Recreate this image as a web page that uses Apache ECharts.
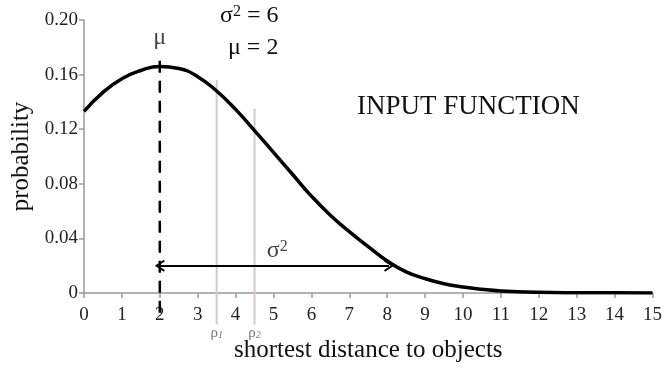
<!DOCTYPE html>
<html lang="en">
<head>
    <meta charset="UTF-8">
    <title>Input function</title>
    <style>
        html, body { margin: 0; padding: 0; background: #fff; }
        #main { width: 665px; height: 368px; }
    </style>
</head>
<body>
<div id="main"></div>
<script src="https://cdn.jsdelivr.net/npm/echarts@6/dist/echarts.min.js"></script>
<script>
    // values
    var distance = [0, 0.5, 1, 1.5, 2, 2.5, 3, 3.5, 4, 4.5, 5, 5.5, 6, 6.5, 7, 7.5, 8, 8.5, 9, 9.5, 10, 10.5, 11, 12, 13, 14, 15];
    var probability = [0.133, 0.147, 0.157, 0.163, 0.166, 0.1645, 0.1585, 0.148, 0.1345, 0.119, 0.103, 0.087, 0.071, 0.057, 0.045, 0.034, 0.0235, 0.0155, 0.0105, 0.0068, 0.0044, 0.0027, 0.0015, 0.0005, 0.0002, 0.0001, 0];
    var xTicks = [0, 1, 2, 3, 4, 5, 6, 7, 8, 9, 10, 11, 12, 13, 14, 15];
    var yTicks = [0, 0.04, 0.08, 0.12, 0.16, 0.20];

    var mu = 2;
    var muLine = [-0.0145, 0.172];
    var rhoX = [3.5, 4.5];
    var rhoTop = [0.156, 0.135];
    var rhoBottom = -0.023;
    var rhoNames = ['1', '2'];
    var arrowY = 0.02;
    var arrowEnd = 8.05;

    var serif = '"Liberation Serif", "Times New Roman", serif';

    var curve = distance.map(function (d, i) { return [d, probability[i]]; });

    var rhoSeries = rhoX.map(function (x, i) {
        return {
            type: 'line',
            data: [[x, rhoBottom], [x, rhoTop[i]]],
            symbol: 'none',
            clip: false,
            silent: true,
            z: 1,
            lineStyle: { color: '#d6c8ce', width: 2 }
        };
    });

    var myChart = echarts.init(document.getElementById('main'));
    myChart.setOption({
        animation: false,
        textStyle: { fontFamily: serif },
        grid: { left: 84, right: 8, top: 20, bottom: 74 },
        xAxis: {
            type: 'value',
            min: 0,
            max: 15,
            interval: 1,
            name: 'shortest distance to objects',
            nameLocation: 'middle',
            nameGap: 45,
            nameTextStyle: { fontSize: 25, color: '#111', fontFamily: serif },
            splitLine: { show: false },
            axisLine: { lineStyle: { color: '#999', width: 1.5 } },
            axisTick: { length: 5, lineStyle: { color: '#999', width: 1.5 } },
            axisLabel: { fontSize: 19, color: '#222', margin: 13, fontFamily: serif,
                formatter: function (v) { return xTicks.indexOf(v) >= 0 ? String(v) : ''; } }
        },
        yAxis: {
            type: 'value',
            min: 0,
            max: 0.2,
            interval: 0.04,
            name: 'probability',
            nameLocation: 'middle',
            nameRotate: 90,
            nameGap: 50,
            nameTextStyle: { fontSize: 25, color: '#111', fontFamily: serif },
            splitLine: { show: false },
            axisLine: { show: true, lineStyle: { color: '#999', width: 1.5 } },
            axisTick: { show: true, length: 5, lineStyle: { color: '#999', width: 1.5 } },
            axisLabel: { fontSize: 19, color: '#222', margin: 6, fontFamily: serif,
                formatter: function (v) {
                    var t = yTicks.filter(function (y) { return Math.abs(y - v) < 1e-9; });
                    if (!t.length) return '';
                    return v === 0 ? '0' : v.toFixed(2);
                } }
        },
        series: rhoSeries.concat([
            {
                // dashed mean line
                type: 'line',
                data: [[mu, muLine[0]], [mu, muLine[1]]],
                symbol: 'none',
                clip: false,
                silent: true,
                z: 2,
                lineStyle: { color: '#000', width: 2.5, type: [12, 8] }
            },
            {
                type: 'line',
                data: curve,
                smooth: true,
                symbol: 'none',
                z: 3,
                lineStyle: { color: '#000', width: 3.5 },
                markLine: {
                    silent: true,
                    symbol: ['path://M0,0 L7,11 L5,12 L0,4 L-5,12 L-7,11 Z', 'path://M0,0 L7,11 L5,12 L0,4 L-5,12 L-7,11 Z'],
                    symbolSize: [12, 10],
                    label: { show: false },
                    lineStyle: { color: '#000', width: 2, type: 'solid' },
                    data: [[{ coord: [mu, arrowY] }, { coord: [arrowEnd, arrowY] }]]
                }
            },
            {
                // text labels placed in data space
                type: 'scatter',
                symbolSize: 0,
                silent: true,
                clip: false,
                z: 4,
                data: [
                    { value: [mu, 0.187], label: { show: true, position: 'inside', formatter: 'μ', fontSize: 24, color: '#111' } },
                    { value: [5.1, 0.031], label: { show: true, position: 'inside', formatter: '{b|σ}{p|2}', fontSize: 23, color: '#111' } },
                    { value: [rhoX[0], -0.029], label: { show: true, position: 'inside', formatter: '{r|ρ}{s|' + rhoNames[0] + '}' } },
                    { value: [rhoX[1], -0.029], label: { show: true, position: 'inside', formatter: '{r|ρ}{s|' + rhoNames[1] + '}' } }
                ],
                label: {
                    fontFamily: serif,
                    rich: {
                        b: { fontSize: 24, color: '#111', fontFamily: serif },
                        p: { fontSize: 16, color: '#111', fontFamily: serif, verticalAlign: 'top', padding: [0, 0, 8, 0] },
                        r: { fontSize: 15, color: '#555', fontFamily: serif },
                        s: { fontSize: 10, color: '#555', fontStyle: 'italic', verticalAlign: 'bottom', padding: [5, 0, 0, 0], fontFamily: serif }
                    }
                }
            }
        ]),
        graphic: [
            {
                type: 'text', left: 220, top: 4,
                style: {
                    text: '{b|σ}{p|2}{b| = 6}',
                    rich: {
                        b: { font: '24px ' + serif, fill: '#111' },
                        p: { font: '16px ' + serif, fill: '#111', verticalAlign: 'top', padding: [0, 0, 8, 0] }
                    }
                }
            },
            { type: 'text', left: 228, top: 36, style: { text: 'μ = 2', font: '24px ' + serif, fill: '#111' } },
            { type: 'text', left: 357, top: 93, style: { text: 'INPUT FUNCTION', font: '27px ' + serif, fill: '#111' } }
        ]
    });
</script>
</body>
</html>
